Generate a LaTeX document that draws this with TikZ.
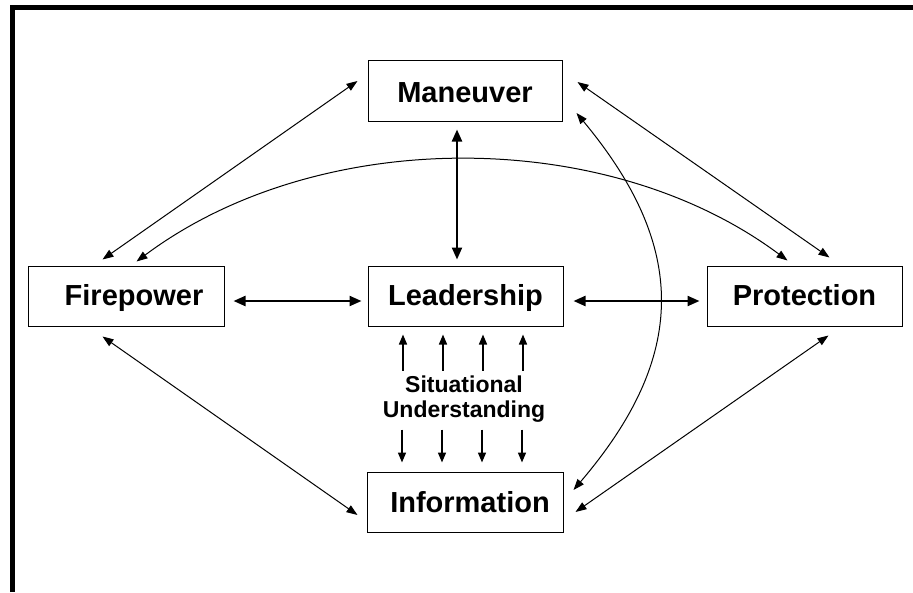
\documentclass[tikz,border=0pt]{standalone}
\usepackage{fontspec}
\setmainfont{Liberation Sans}
\usetikzlibrary{arrows.meta}
\tikzset{
  box/.style={draw, line width=1pt, rectangle, minimum width=#1, minimum height=60pt, inner sep=0pt,
    text height=25pt, text depth=6pt,
    font=\fontsize{29}{32}\selectfont\bfseries},
  thin/.style={line width=1pt, {Triangle[length=11pt,width=8pt]}-{Triangle[length=11pt,width=8pt]}},
  thick2/.style={line width=2.2pt, {Triangle[length=12pt,width=10pt]}-{Triangle[length=12pt,width=10pt]}},
  small/.style={line width=1.6pt, -{Triangle[length=10pt,width=8pt]}},
  frame/.style={line width=5pt}
}
\begin{document}
\begin{tikzpicture}[x=1pt,y=-1pt]
\useasboundingbox (0,0) rectangle (913,592);
\draw[frame] (12.5,592) -- (12.5,7.5) -- (913,7.5);

\node[box=194pt, minimum height=61pt, text height=30pt] (M) at (465,90.5) {Maneuver};
\node[box=195pt] (L) at (465.5,296) {Leadership};
\node[box=196pt] (F) at (126,296) {\hspace*{16pt}Firepower};
\node[box=195pt] (P) at (804.5,296) {Protection};
\node[box=196pt, text height=27pt] (I) at (465,502) {\hspace*{10pt}Information};
\node[font=\fontsize{23}{25}\selectfont\bfseries, align=center, inner sep=0pt] (SU) at (464,399.5) {Situational\\Understanding};

% diagonal connectors
\draw[thin] ([shift={(75,-6)}]F.north west) -- ([shift={(-10,-9.5)}]M.west);
\draw[thin] ([shift={(15,-8.5)}]M.east) -- ([shift={(123,-8)}]P.north west);
\draw[thin] ([shift={(75,10)}]F.south west) -- ([shift={(-9,13)}]I.west);
\draw[thin] ([shift={(122,9)}]P.south west) -- ([shift={(12,10)}]I.east);

% curves
\draw[thin] ([shift={(109,-4)}]F.north west) .. controls (318,126) and (607,126) .. ([shift={(81,-5)}]P.north west);
\draw[thin] ([shift={(14,22.5)}]M.east) .. controls (688,247) and (688,356) .. ([shift={(10,-12)}]I.east);

% thick connectors
\draw[thick2] ([shift={(9,5)}]F.east) -- ([shift={(-6,5)}]L.west);
\draw[thick2] ([shift={(10,5)}]L.east) -- ([shift={(-7,5)}]P.west);
\draw[thick2] ([shift={(-8,8)}]M.south) -- ([shift={(-8.5,-6)}]L.north);

% situational understanding arrows
\foreach \dx in {-62.5,-22.5,17.5,57.5}{
  \draw[small] ([shift={(\dx,44)}]L.south) -- ([shift={(\dx,8)}]L.south);
  \draw[small] ([shift={(\dx-0.5,-42)}]I.north) -- ([shift={(\dx-0.5,-9)}]I.north);
}
\end{tikzpicture}
\end{document}
